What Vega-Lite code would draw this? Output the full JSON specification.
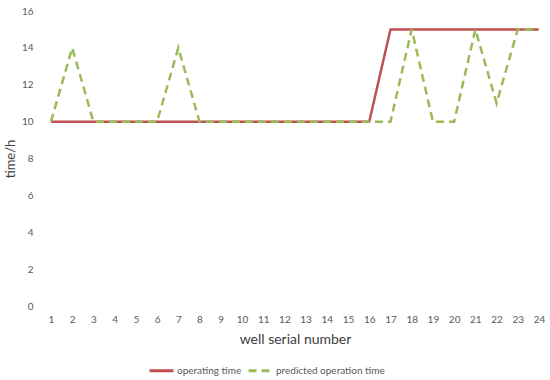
{
  "$schema": "https://vega.github.io/schema/vega-lite/v6.json",
  "width": 488,
  "height": 295,
  "autosize": {"type": "none"},
  "padding": {"left": 51, "top": 11, "right": 11, "bottom": 74},
  "background": "white",
  "config": {"view": {"stroke": null}, "font": "Lato"},
  "data": {"values": [
    {"well": 1, "series": "operating time", "time": 10},
    {"well": 2, "series": "operating time", "time": 10},
    {"well": 3, "series": "operating time", "time": 10},
    {"well": 4, "series": "operating time", "time": 10},
    {"well": 5, "series": "operating time", "time": 10},
    {"well": 6, "series": "operating time", "time": 10},
    {"well": 7, "series": "operating time", "time": 10},
    {"well": 8, "series": "operating time", "time": 10},
    {"well": 9, "series": "operating time", "time": 10},
    {"well": 10, "series": "operating time", "time": 10},
    {"well": 11, "series": "operating time", "time": 10},
    {"well": 12, "series": "operating time", "time": 10},
    {"well": 13, "series": "operating time", "time": 10},
    {"well": 14, "series": "operating time", "time": 10},
    {"well": 15, "series": "operating time", "time": 10},
    {"well": 16, "series": "operating time", "time": 10},
    {"well": 17, "series": "operating time", "time": 15},
    {"well": 18, "series": "operating time", "time": 15},
    {"well": 19, "series": "operating time", "time": 15},
    {"well": 20, "series": "operating time", "time": 15},
    {"well": 21, "series": "operating time", "time": 15},
    {"well": 22, "series": "operating time", "time": 15},
    {"well": 23, "series": "operating time", "time": 15},
    {"well": 24, "series": "operating time", "time": 15},
    {"well": 1, "series": "predicted operation time", "time": 10},
    {"well": 2, "series": "predicted operation time", "time": 14},
    {"well": 3, "series": "predicted operation time", "time": 10},
    {"well": 4, "series": "predicted operation time", "time": 10},
    {"well": 5, "series": "predicted operation time", "time": 10},
    {"well": 6, "series": "predicted operation time", "time": 10},
    {"well": 7, "series": "predicted operation time", "time": 14},
    {"well": 8, "series": "predicted operation time", "time": 10},
    {"well": 9, "series": "predicted operation time", "time": 10},
    {"well": 10, "series": "predicted operation time", "time": 10},
    {"well": 11, "series": "predicted operation time", "time": 10},
    {"well": 12, "series": "predicted operation time", "time": 10},
    {"well": 13, "series": "predicted operation time", "time": 10},
    {"well": 14, "series": "predicted operation time", "time": 10},
    {"well": 15, "series": "predicted operation time", "time": 10},
    {"well": 16, "series": "predicted operation time", "time": 10},
    {"well": 17, "series": "predicted operation time", "time": 10},
    {"well": 18, "series": "predicted operation time", "time": 15},
    {"well": 19, "series": "predicted operation time", "time": 10},
    {"well": 20, "series": "predicted operation time", "time": 10},
    {"well": 21, "series": "predicted operation time", "time": 15},
    {"well": 22, "series": "predicted operation time", "time": 11},
    {"well": 23, "series": "predicted operation time", "time": 15},
    {"well": 24, "series": "predicted operation time", "time": 15}
  ]},
  "mark": {"type": "line", "strokeWidth": 2.5},
  "encoding": {
    "x": {
      "field": "well", "type": "quantitative",
      "scale": {"domain": [1, 24], "nice": false, "zero": false},
      "axis": {
        "title": "well serial number", "values": [1,2,3,4,5,6,7,8,9,10,11,12,13,14,15,16,17,18,19,20,21,22,23,24],
        "grid": false, "domain": false, "ticks": false, "labelPadding": 8,
        "labelColor": "#595959", "labelFontSize": 10,
        "titleFontSize": 14, "titleFontWeight": "normal", "titleColor": "#404040",
        "titlePadding": 8, "labelOverlap": false, "labelFlush": false
      }
    },
    "y": {
      "field": "time", "type": "quantitative",
      "scale": {"domain": [0, 16], "nice": false},
      "axis": {
        "title": "time/h", "values": [0,2,4,6,8,10,12,14,16],
        "grid": false, "domain": false, "ticks": false, "labelPadding": 18,
        "labelColor": "#595959", "labelFontSize": 10,
        "titleFontSize": 13, "titleFontWeight": "normal", "titleColor": "#404040",
        "titlePadding": 4, "labelFlush": false
      }
    },
    "color": {
      "field": "series", "type": "nominal",
      "scale": {"domain": ["operating time", "predicted operation time"], "range": ["#C0504D", "#9BBB59"]},
      "legend": {
        "title": null, "orient": "none", "direction": "horizontal",
        "legendX": 97, "legendY": 346, "symbolType": "stroke", "symbolSize": 576,
        "symbolStrokeWidth": 3, "labelFontSize": 10, "labelColor": "#595959",
        "columnPadding": 0, "labelOffset": 2
      }
    },
    "strokeDash": {
      "field": "series", "type": "nominal",
      "scale": {"domain": ["operating time", "predicted operation time"], "range": [[1, 0], [8, 5]]},
      "legend": {
        "title": null, "orient": "none", "direction": "horizontal",
        "legendX": 97, "legendY": 346, "symbolType": "stroke", "symbolSize": 576,
        "symbolStrokeWidth": 3, "labelFontSize": 10, "labelColor": "#595959",
        "columnPadding": 0, "labelOffset": 2
      }
    }
  }
}
